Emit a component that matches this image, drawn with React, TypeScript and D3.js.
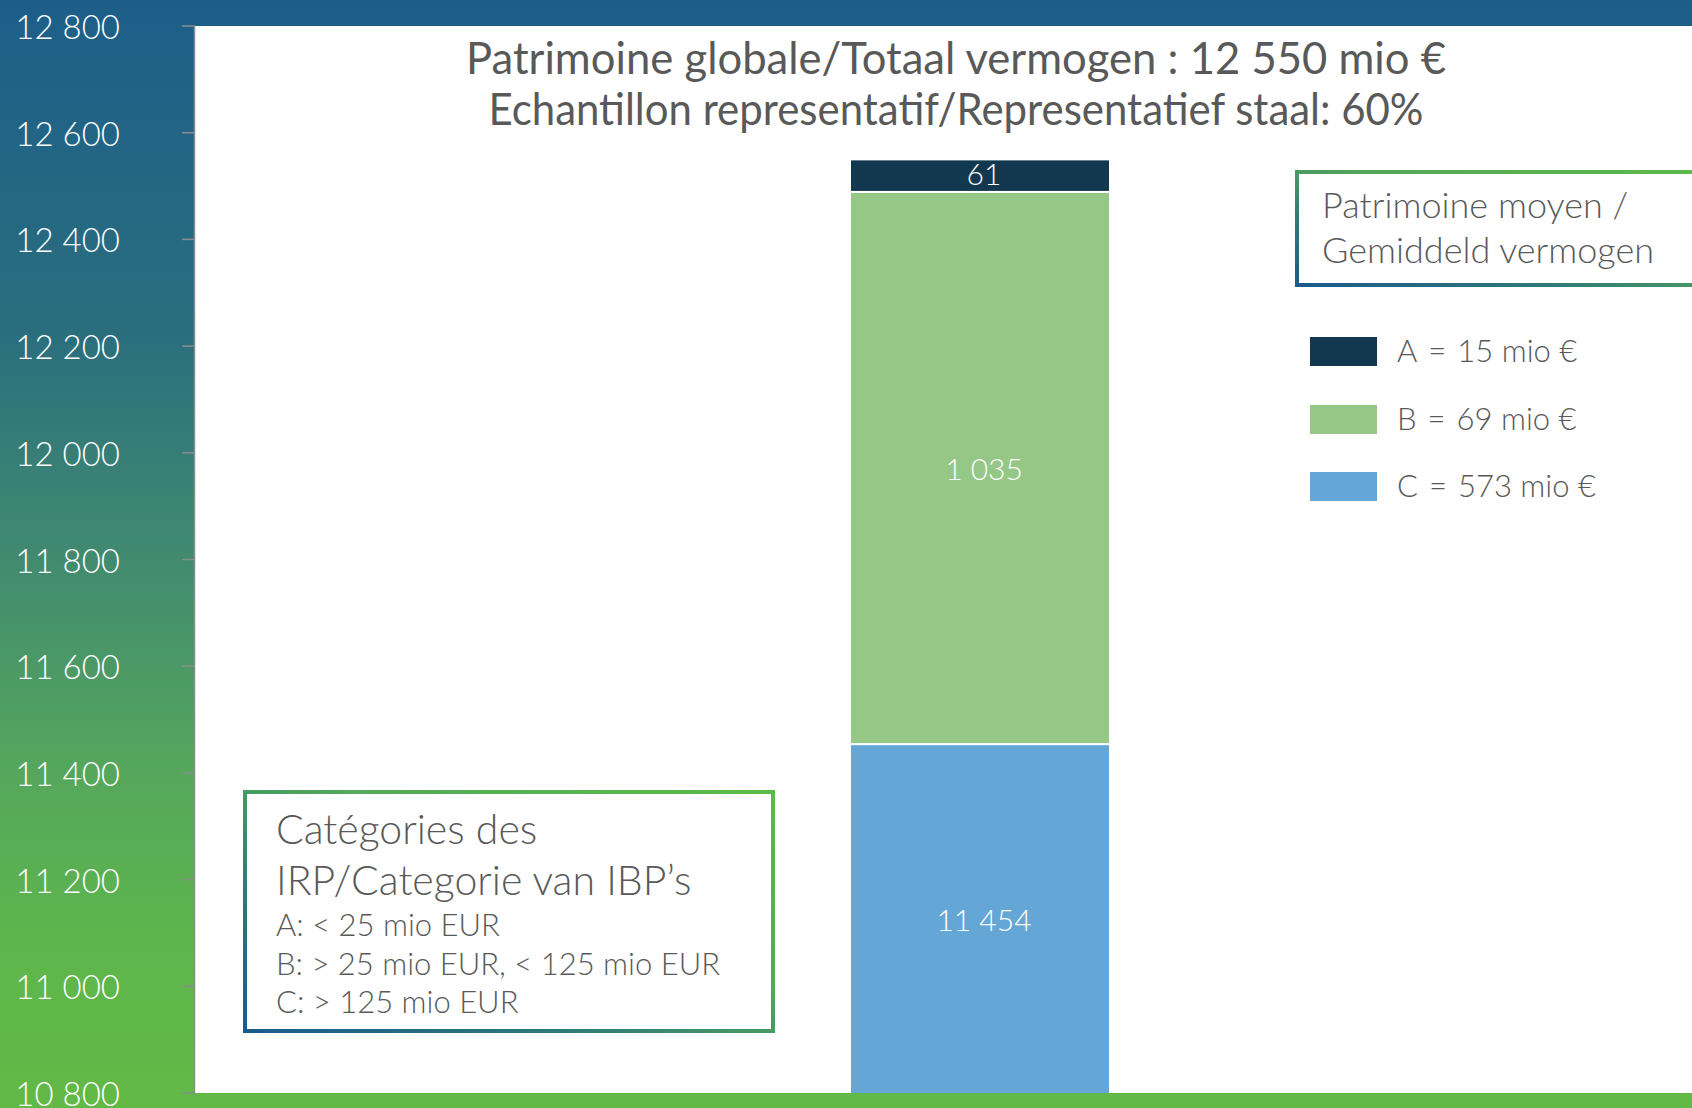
import React from "react";
import * as d3 from "d3";

const categories = ["C", "B", "A"];
const values = [11454, 1035, 61];
const colors = ["#64a7d6", "#95c786", "#12384f"];
const valueLabels = ["11 454", "1 035", "61"];
const tickValues = [10800, 11000, 11200, 11400, 11600, 11800, 12000, 12200, 12400, 12600, 12800];
const titleLines = [
  "Patrimoine globale/Totaal vermogen : 12 550 mio €",
  "Echantillon representatif/Representatief staal: 60%",
];
const legendTitle = ["Patrimoine moyen /", "Gemiddeld vermogen"];
const legendLetters = ["A", "B", "C"];
const legendAverages = ["15 mio €", "69 mio €", "573 mio €"];
const legendColors = ["#12384f", "#95c786", "#64a7d6"];
const catTitle = ["Catégories des", "IRP/Categorie van IBP’s"];
const catLines = ["A: < 25 mio EUR", "B: > 25 mio EUR, < 125 mio EUR", "C: > 125 mio EUR"];

const W = 1692;
const H = 1108;
const plotLeft = 195;
const plotTop = 26;
const plotBottom = 1093;

const fmt = d3.formatLocale({ decimal: ",", thousands: " ", grouping: [3], currency: ["", "€"] }).format(",d");

export default function App() {
  const y = d3.scaleLinear().domain([10800, 12800]).range([plotBottom, plotTop]);
  const x = d3.scaleBand().domain(["total"]).range([850, 1110]).paddingInner(0).paddingOuter(0);
  const barX = x("total") as number;
  const barW = x.bandwidth();
  let cum = 0;
  const segs = values.map((v, i) => {
    const s = { y0: cum, y1: cum + v, color: colors[i], label: valueLabels[i], cat: categories[i] };
    cum += v;
    return s;
  });
  const font = "Lato, 'Open Sans', sans-serif";
  const textColor = "#595959";
  const titleWidths = [980, 935];
  return (
    <svg width={W} height={H} style={{ position: "absolute", left: 0, top: 0 }}>
      <defs>
        <linearGradient id="bg" x1="0" y1="0" x2="0" y2="1">
          <stop offset="0" stopColor="#1c5e89" />
          <stop offset="0.3" stopColor="#2a6e7e" />
          <stop offset="0.5" stopColor="#418a70" />
          <stop offset="0.7" stopColor="#56a75c" />
          <stop offset="0.85" stopColor="#5eb54c" />
          <stop offset="1" stopColor="#62b946" />
        </linearGradient>
        <linearGradient id="border" x1="0" y1="1" x2="1" y2="0">
          <stop offset="0" stopColor="#1b5b8c" />
          <stop offset="0.3" stopColor="#2f7a78" />
          <stop offset="0.6" stopColor="#54a95a" />
          <stop offset="1" stopColor="#5cba48" />
        </linearGradient>
        <clipPath id="plotClip">
          <rect x={plotLeft} y={plotTop} width={W - plotLeft} height={plotBottom - plotTop} />
        </clipPath>
      </defs>
      <rect x={0} y={0} width={W} height={H} fill="url(#bg)" />
      <rect x={plotLeft} y={plotTop} width={W - plotLeft} height={plotBottom - plotTop} fill="#ffffff" />
      {/* axis */}
      <line x1={plotLeft - 0.5} x2={plotLeft - 0.5} y1={plotTop} y2={plotBottom} stroke="#8c8c8c" strokeWidth={1.5} />
      {tickValues.map((t) => (
        <g key={t}>
          <line x1={182} x2={plotLeft} y1={y(t)} y2={y(t)} stroke="#8c8c8c" strokeWidth={1.5} />
          <text x={120} y={y(t)} textAnchor="end" dominantBaseline="central" fill="#ffffff" fontFamily={font} fontWeight={300} fontSize={33}>
            {fmt(t)}
          </text>
        </g>
      ))}
      {/* bars */}
      <g clipPath="url(#plotClip)">
        {segs.map((s, i) => (
          <rect key={i} x={barX} y={y(s.y1)} width={barW} height={y(s.y0) - y(s.y1)} fill={s.color} stroke="#ffffff" strokeWidth={2} />
        ))}
      </g>
      {segs.map((s, i) => {
        const top = y(s.y1);
        const bot = Math.min(y(s.y0), plotBottom);
        return (
          <text key={i} x={barX + barW / 2 + 4} y={(top + bot) / 2 - (s.cat === "A" ? 3 : 0)} textAnchor="middle" dominantBaseline="central" fill="#ffffff" fontFamily={font} fontWeight={300} fontSize={30}>
            {s.label}
          </text>
        );
      })}
      {/* title */}
      {titleLines.map((t, i) => (
        <text key={i} x={956} y={74 + i * 51} textAnchor="middle" fill={textColor} fontFamily={font} fontWeight={400} fontSize={45} textLength={titleWidths[i]} lengthAdjust="spacingAndGlyphs">
          {t}
        </text>
      ))}
      {/* legend box */}
      <rect x={1297} y={172} width={420} height={113} fill="none" stroke="url(#border)" strokeWidth={4} />
      {legendTitle.map((t, i) => (
        <text key={i} x={1322} y={218 + i * 45} fill={textColor} fontFamily={font} fontWeight={300} fontSize={36}>
          {t}
        </text>
      ))}
      {legendLetters.map((l, i) => {
        const ys = [337, 405, 472][i];
        return (
          <g key={i}>
            <rect x={1310} y={ys} width={67} height={29} fill={legendColors[i]} />
            <text x={1397} y={ys + 13} dominantBaseline="central" fill={textColor} fontFamily={font} fontWeight={300} fontSize={31}>
              <tspan>{l}</tspan>
              <tspan dx={11}>=</tspan>
              <tspan dx={11}>{legendAverages[i]}</tspan>
            </text>
          </g>
        );
      })}
      {/* categories box */}
      <rect x={245} y={792} width={528} height={239} fill="#ffffff" stroke="url(#border)" strokeWidth={4} />
      {catTitle.map((t, i) => (
        <text key={i} x={276} y={844 + i * 51} fill={textColor} fontFamily={font} fontWeight={300} fontSize={41}>
          {t}
        </text>
      ))}
      {catLines.map((t, i) => (
        <text key={i} x={276} y={936 + i * 38.5} fill={textColor} fontFamily={font} fontWeight={300} fontSize={31}>
          {t}
        </text>
      ))}
    </svg>
  );
}
